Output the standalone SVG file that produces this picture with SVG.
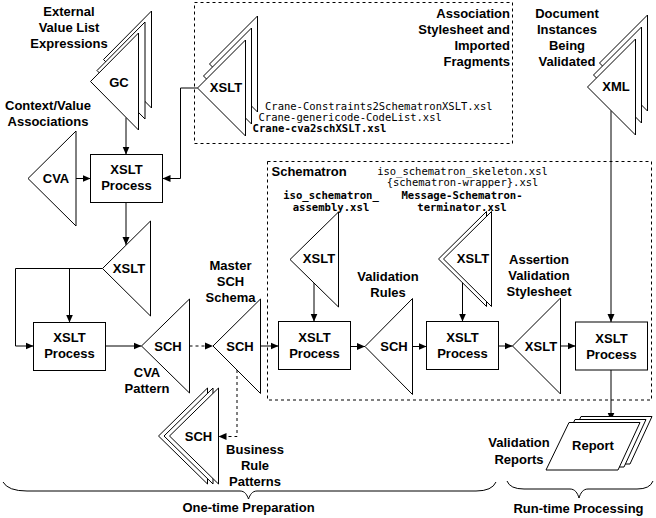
<svg xmlns="http://www.w3.org/2000/svg" width="656" height="518" viewBox="0 0 656 518">
<style>
.s{fill:#fff;stroke:#000;stroke-width:1}
.b{fill:#fff;stroke:#000;stroke-width:1}
.d{fill:none;stroke:#000;stroke-width:1;stroke-dasharray:3,3}
.c{fill:none;stroke:#000;stroke-width:1}
.t{font-family:"Liberation Sans",Arial,sans-serif;font-weight:bold;font-size:13px;fill:#000;text-anchor:middle}
.te{font-family:"Liberation Sans",Arial,sans-serif;font-weight:bold;font-size:13px;fill:#000;text-anchor:end}
.ts{font-family:"Liberation Sans",Arial,sans-serif;font-weight:bold;font-size:13px;fill:#000}
.m{font-family:"DejaVu Sans Mono","Liberation Mono",monospace;font-size:10.5px;fill:#000}
.mb{font-family:"DejaVu Sans Mono","Liberation Mono",monospace;font-size:10.6px;font-weight:bold;fill:#000}
</style>
<defs>
<marker id="ah" markerUnits="userSpaceOnUse" markerWidth="9" markerHeight="8" refX="8" refY="4" orient="auto">
<path d="M0,0.5 L8,4 L0,7.5 z" fill="#000"/>
</marker>
</defs>

<g id="assoc-box"><rect class="d" x="194.5" y="2.5" width="318" height="141"/>
<text class="te" x="510" y="17.5">Association</text>
<text class="te" x="510" y="33.5">Stylesheet and</text>
<text class="te" x="510" y="49.5">Imported</text>
<text class="te" x="510" y="65.5">Fragments</text>
</g>
<g id="schematron-box"><rect class="d" x="267.5" y="161.5" width="384" height="238.5"/>
<text class="ts" x="271.5" y="175.5">Schematron</text>
<text class="m" x="462.5" y="175" text-anchor="middle">iso_schematron_skeleton.xsl</text>
<text class="m" x="462.5" y="186" text-anchor="middle">{schematron-wrapper}.xsl</text>
</g>

<g id="connectors">
<path class="c" d="M126,117.5 V154.5" marker-end="url(#ah)"/>
<path class="c" d="M76,178.5 H90.5" marker-end="url(#ah)"/>
<path class="c" d="M197.5,88 H180.5 V178.5 H162.5" marker-end="url(#ah)"/>
<path class="c" d="M126,202.5 V245" marker-end="url(#ah)"/>
<path class="c" d="M102.5,268.5 H15.5 V346 H33.5" marker-end="url(#ah)"/>
<path class="c" d="M69.5,268.5 V322.5" marker-end="url(#ah)"/>
<path class="c" d="M105.5,346 H141.5" marker-end="url(#ah)"/>
<path class="d" d="M189.5,346 H213" marker-end="url(#ah)"/>
<path class="c" d="M260.5,346 H278.5" marker-end="url(#ah)"/>
<path class="d" d="M237,370 V436.5 H218.5" marker-end="url(#ah)"/>
<path class="c" d="M314,283 V321.5" marker-end="url(#ah)"/>
<path class="c" d="M350.5,346.5 H365" marker-end="url(#ah)"/>
<path class="c" d="M412.5,346.5 H426.5" marker-end="url(#ah)"/>
<path class="c" d="M462.5,277.5 V321.5" marker-end="url(#ah)"/>
<path class="c" d="M498.5,346 H512.5" marker-end="url(#ah)"/>
<path class="c" d="M560.5,346 H575.5" marker-end="url(#ah)"/>
<path class="c" d="M611,110.5 V322" marker-end="url(#ah)"/>
<path class="c" d="M611,370 V420.5" marker-end="url(#ah)"/>
</g>

<g id="gc">
<polygon class="s" points="103.5,59.5 151.5,11 151.5,108"/>
<polygon class="s" points="97,70.5 145,22 145,119"/>
<polygon class="s" points="90.5,81.5 138.5,33 138.5,130"/>
<text class="t" x="119" y="86.5">GC</text>
</g>
<g id="gc-label">
<text class="t" x="69" y="15.5">External</text>
<text class="t" x="69" y="31.5">Value List</text>
<text class="t" x="69" y="47.5">Expressions</text>
</g>
<g id="cva-label">
<text class="t" x="48" y="110">Context/Value</text>
<text class="t" x="48" y="126">Associations</text>
</g>
<g id="cva">
<polygon class="s" points="28,178.5 76,131 76,226"/>
<text class="t" x="56" y="183">CVA</text>
</g>
<g id="assoc-xslt">
<polygon class="s" points="209.5,64 257.5,16 257.5,112"/>
<polygon class="s" points="203.5,76 251.5,28 251.5,124"/>
<polygon class="s" points="197.5,88 245.5,40 245.5,136"/>
<text class="t" x="226" y="92">XSLT</text>
<text class="m" x="265" y="110">Crane-Constraints2SchematronXSLT.xsl</text>
<text class="m" x="258.5" y="121">Crane-genericode-CodeList.xsl</text>
<text class="mb" x="252.5" y="132">Crane-cva2schXSLT.xsl</text>
</g>
<g id="xml">
<polygon class="s" points="599.5,63 647.5,15 647.5,111"/>
<polygon class="s" points="593.5,75 641.5,27 641.5,123"/>
<polygon class="s" points="587.5,87 635.5,39 635.5,135"/>
<text class="t" x="616" y="91">XML</text>
</g>
<g id="xml-label">
<text class="t" x="567" y="18">Document</text>
<text class="t" x="567" y="34">Instances</text>
<text class="t" x="567" y="50">Being</text>
<text class="t" x="567" y="66">Validated</text>
</g>
<g id="process1">
<rect class="b" x="90.5" y="154.5" width="72" height="48"/>
<text class="t" x="126.5" y="174">XSLT</text>
<text class="t" x="126.5" y="190">Process</text>
</g>
<g id="xslt-left">
<polygon class="s" points="102.5,268.5 150.5,221 150.5,316"/>
<text class="t" x="129" y="273">XSLT</text>
</g>
<g id="process2">
<rect class="b" x="33.5" y="322.5" width="72" height="48"/>
<text class="t" x="69.5" y="341.5">XSLT</text>
<text class="t" x="69.5" y="358">Process</text>
</g>
<g id="sch-cva">
<polygon class="s" points="141.5,346 189.5,299 189.5,393"/>
<text class="t" x="168" y="350.5">SCH</text>
<text class="t" x="147" y="377">CVA</text>
<text class="t" x="147" y="393">Pattern</text>
</g>
<g id="sch-master">
<polygon class="s" points="213,346 260.5,299 260.5,393.5"/>
<text class="t" x="240" y="350.5">SCH</text>
<text class="t" x="230.5" y="270">Master</text>
<text class="t" x="230.5" y="286">SCH</text>
<text class="t" x="230.5" y="302">Schema</text>
</g>
<g id="sch-business">
<polygon class="s" points="158.5,436 207.5,388 207.5,484"/>
<polygon class="s" points="164,436 213,388 213,484"/>
<polygon class="s" points="169.5,436 218.5,388 218.5,484"/>
<text class="t" x="198.5" y="441">SCH</text>
<text class="t" x="255" y="454">Business</text>
<text class="t" x="255" y="470">Rule</text>
<text class="t" x="255" y="486">Patterns</text>
</g>
<g id="xslt-assembly">
<polygon class="s" points="290,259.5 338.5,212 338.5,307"/>
<text class="t" x="319" y="263">XSLT</text>
<text class="mb" x="331" y="198.5" text-anchor="middle">iso_schematron_</text>
<text class="mb" x="331" y="210.5" text-anchor="middle">assembly.xsl</text>
</g>
<g id="xslt-message">
<polygon class="s" points="438.5,259 486.5,211.5 486.5,306.5"/>
<polygon class="s" points="443.5,259 491.5,211.5 491.5,306.5"/>
<text class="t" x="473" y="263">XSLT</text>
<text class="mb" x="462" y="198.5" text-anchor="middle">Message-Schematron-</text>
<text class="mb" x="462" y="210.5" text-anchor="middle">terminator.xsl</text>
</g>
<g id="process3">
<rect class="b" x="278.5" y="321.5" width="72" height="48"/>
<text class="t" x="314.5" y="342">XSLT</text>
<text class="t" x="314.5" y="358">Process</text>
</g>
<g id="sch-validation">
<polygon class="s" points="365,346.5 412.5,298.5 412.5,394.5"/>
<text class="t" x="394" y="351">SCH</text>
<text class="t" x="388" y="280.5">Validation</text>
<text class="t" x="388" y="297">Rules</text>
</g>
<g id="process4">
<rect class="b" x="426.5" y="321.5" width="72" height="48"/>
<text class="t" x="462.5" y="342">XSLT</text>
<text class="t" x="462.5" y="358">Process</text>
</g>
<g id="xslt-assertion">
<polygon class="s" points="512.5,346 560.5,298 560.5,394"/>
<text class="t" x="541" y="351">XSLT</text>
<text class="t" x="539" y="264">Assertion</text>
<text class="t" x="539" y="280">Validation</text>
<text class="t" x="539" y="296">Stylesheet</text>
</g>
<g id="process5">
<rect class="b" x="575.5" y="322" width="72" height="48"/>
<text class="t" x="611.5" y="342.5">XSLT</text>
<text class="t" x="611.5" y="358.5">Process</text>
</g>
<g id="report">
<polygon class="s" points="581,416.5 652,416.5 630,464 558,464"/>
<polygon class="s" points="575,419.5 646,419.5 624,467 552,467"/>
<polygon class="s" points="569,422.5 640,422.5 618,470 546,470"/>
<text class="t" x="593" y="450">Report</text>
<text class="t" x="519" y="447">Validation</text>
<text class="t" x="519" y="463.5">Reports</text>
</g>
<g id="brace-onetime">
<path class="c" d="M3,482 Q8,491 27,491 H240 C245,491 247,495 248.5,499 C250,495 252,491 257,491 H476 Q492,491 496,482"/>
<text class="t" x="248.5" y="512">One-time Preparation</text>
</g>
<g id="brace-runtime">
<path class="c" d="M507,481 Q510,489 524,489 H570 C575,489 577.5,493 579,498 C580.5,493 583,489 588,489 H637 Q650,489 653,481"/>
<text class="t" x="578.5" y="513">Run-time Processing</text>
</g>
</svg>
